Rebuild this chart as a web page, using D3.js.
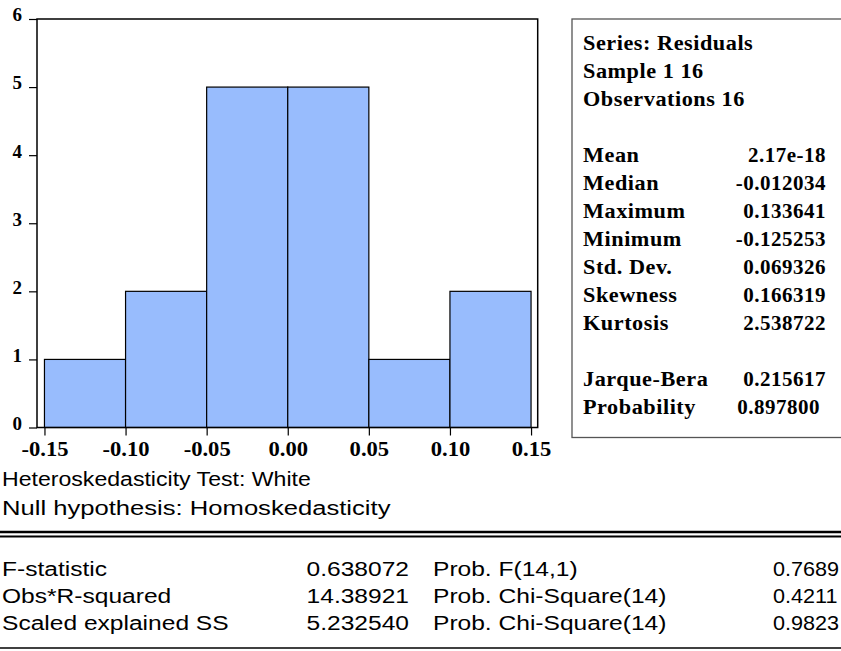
<!DOCTYPE html>
<html>
<head>
<meta charset="utf-8">
<script src="https://cdn.jsdelivr.net/npm/d3@7"></script>
<style>
  html, body { margin: 0; padding: 0; background: #fff; overflow: hidden; }
  svg { display: block; }
  .serif { font-family: "Liberation Serif", "Times New Roman", serif; font-weight: bold; fill: #000; }
  .sans { font-family: "Liberation Sans", Arial, sans-serif; fill: #000; }
</style>
</head>
<body>
<svg id="chart" width="841" height="651"></svg>
<script>
// ---- data ----
const binEdges = [-0.15, -0.10, -0.05, 0.00, 0.05, 0.10, 0.15];
const counts = [1, 2, 5, 5, 1, 2];
const yTicks = [0, 1, 2, 3, 4, 5, 6];
const xTicks = [-0.15, -0.10, -0.05, 0.00, 0.05, 0.10, 0.15];

const headerLines = ["Series: Residuals", "Sample 1 16", "Observations 16"];
const statLabels = ["Mean", "Median", "Maximum", "Minimum", "Std. Dev.", "Skewness", "Kurtosis"];
const statValues = ["2.17e-18", "-0.012034", "0.133641", "-0.125253", "0.069326", "0.166319", "2.538722"];
const jbLabels = ["Jarque-Bera", "Probability"];
const jbValues = ["0.215617", "0.897800"];

const testTitle = ["Heteroskedasticity Test: White", "Null hypothesis: Homoskedasticity"];
const testLabels = ["F-statistic", "Obs*R-squared", "Scaled explained SS"];
const testValues = ["0.638072", "14.38921", "5.232540"];
const probLabels = ["Prob. F(14,1)", "Prob. Chi-Square(14)", "Prob. Chi-Square(14)"];
const probValues = ["0.7689", "0.4211", "0.9823"];

// ---- layout ----
const svg = d3.select("#chart");
const plot = { left: 37, right: 537.7, top: 19, bottom: 427.5 };

const x = d3.scaleLinear().domain([-0.1546, 0.1541]).range([plot.left, plot.right]);
const y = d3.scaleLinear().domain([0, 6]).range([plot.bottom, plot.top]);

const bins = counts.map((c, i) => ({ x0: binEdges[i], x1: binEdges[i + 1], n: c }));

// horizontally stretched text helper
function stext(g, str, tx, ty, sx, anchor) {
  return g.append("text")
    .attr("transform", `translate(${tx},${ty}) scale(${sx},1)`)
    .attr("text-anchor", anchor || "start")
    .text(str);
}

// bars
svg.append("g").selectAll("rect").data(bins).join("rect")
  .attr("x", d => x(d.x0))
  .attr("y", d => y(d.n))
  .attr("width", d => x(d.x1) - x(d.x0))
  .attr("height", d => y(0) - y(d.n))
  .attr("fill", "#98bcfd")
  .attr("stroke", "#000")
  .attr("stroke-width", 1.2);

// frame
svg.append("rect")
  .attr("x", plot.left).attr("y", plot.top)
  .attr("width", plot.right - plot.left).attr("height", plot.bottom - plot.top)
  .attr("fill", "none").attr("stroke", "#000").attr("stroke-width", 1.5);

// y axis
const yAxis = d3.axisLeft(y).tickValues(yTicks).tickFormat(d3.format("d")).tickSize(8).tickPadding(7);
const gy = svg.append("g").attr("transform", `translate(${plot.left},0)`).call(yAxis);
gy.select(".domain").remove();
gy.selectAll(".tick line").attr("stroke", "#000").attr("stroke-width", 1.2);
gy.selectAll(".tick text").attr("class", "serif").style("font-size", "19px").attr("dy", "0.1em");

// x axis
const xAxis = d3.axisBottom(x).tickValues(xTicks).tickFormat(d => d3.format(".2f")(d).replace("−", "-")).tickSize(8).tickPadding(6);
const gx = svg.append("g").attr("transform", `translate(0,${plot.bottom})`).call(xAxis);
gx.select(".domain").remove();
gx.selectAll(".tick line").attr("stroke", "#000").attr("stroke-width", 1.2);
gx.selectAll(".tick text").attr("class", "serif").style("font-size", "20px").attr("dy", "0.72em")
  .attr("transform", "scale(1.13,1)");

// stats box
svg.append("rect")
  .attr("x", 572).attr("y", plot.top).attr("width", 300).attr("height", 437.5 - plot.top)
  .attr("fill", "none").attr("stroke", "#555").attr("stroke-width", 1.3);

const lineH = 28, base0 = 50, labX = 583, valX = 826, sxBox = 1.06;
const box = svg.append("g").attr("class", "serif").style("font-size", "21px").style("letter-spacing", "0.5px");
headerLines.forEach((t, i) => stext(box, t, labX, base0 + i * lineH, sxBox));
statLabels.forEach((t, i) => {
  stext(box, t, labX, base0 + (i + 4) * lineH, sxBox);
  stext(box, statValues[i], valX, base0 + (i + 4) * lineH, 1.0, "end");
});
jbLabels.forEach((t, i) => {
  stext(box, t, labX, base0 + (i + 12) * lineH, sxBox);
  stext(box, jbValues[i], valX - (i === 1 ? 6 : 0), base0 + (i + 12) * lineH, 1.0, "end");
});

// heteroskedasticity test table
const sxT = 1.17;
const tbl = svg.append("g").attr("class", "sans").style("font-size", "21px");
stext(tbl, testTitle[0], 2, 486, 1.1);
stext(tbl, testTitle[1], 2, 515, 1.22);

svg.append("line").attr("x1", 0).attr("x2", 841).attr("y1", 532).attr("y2", 532).attr("stroke", "#000").attr("stroke-width", 2.5);
svg.append("line").attr("x1", 0).attr("x2", 841).attr("y1", 536.5).attr("y2", 536.5).attr("stroke", "#000").attr("stroke-width", 2);
svg.append("line").attr("x1", 0).attr("x2", 841).attr("y1", 648).attr("y2", 648).attr("stroke", "#000").attr("stroke-width", 1.5);

const rowBase = 576, rowH = 27;
testLabels.forEach((t, i) => {
  const yy = rowBase + i * rowH;
  stext(tbl, t, 2, yy, sxT);
  stext(tbl, testValues[i], 409, yy, sxT, "end");
  stext(tbl, probLabels[i], 433, yy, sxT);
  stext(tbl, probValues[i], 773, yy, 1.03);
});
</script>
</body>
</html>
